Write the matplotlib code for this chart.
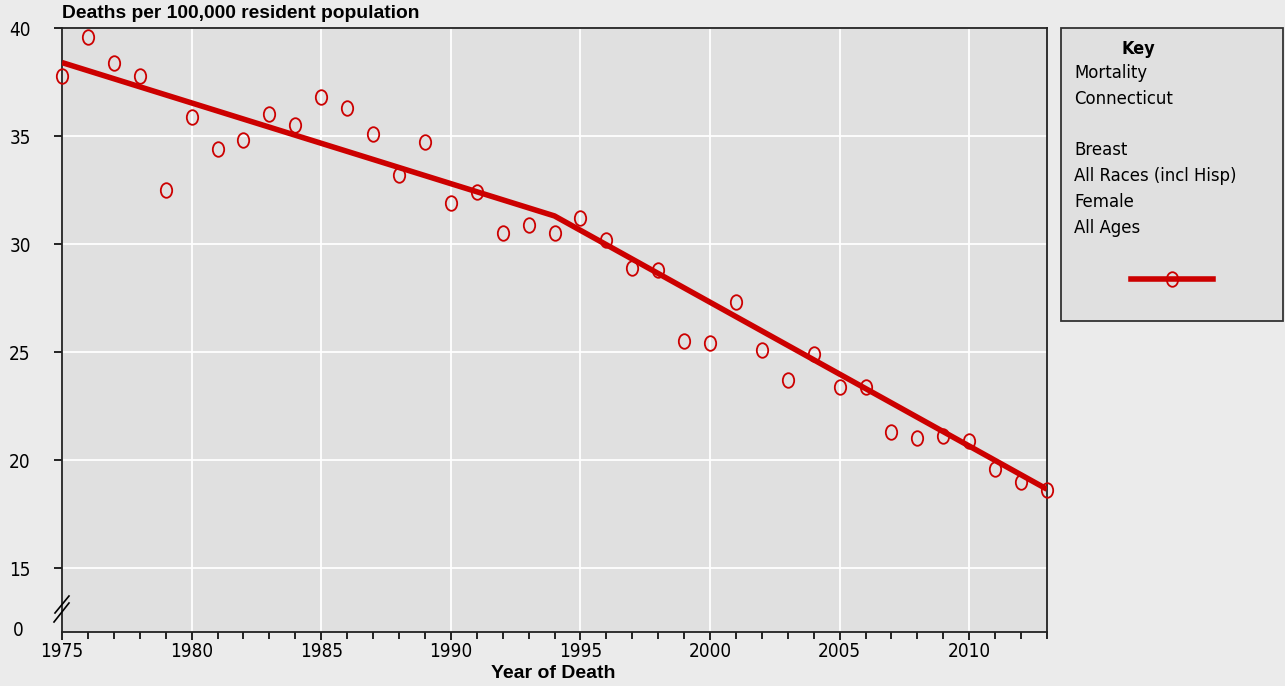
import matplotlib.pyplot as plt
import numpy as np
from matplotlib.path import Path
from matplotlib.patches import Rectangle
from matplotlib.lines import Line2D

years = list(range(1975, 2014))
rates = [37.8, 39.6, 38.4, 37.8, 32.5, 35.9, 34.4, 34.8, 36.0, 35.5,
         36.8, 36.3, 35.1, 33.2, 34.7, 31.9, 32.4, 30.5, 30.9, 30.5,
         31.2, 30.2, 28.9, 28.8, 25.5, 25.4, 27.3, 25.1, 23.7, 24.9,
         23.4, 23.4, 21.3, 21.0, 21.1, 20.9, 19.6, 19.0, 18.6]
trend_years = [1975, 1994, 2013]
trend_vals = [38.4, 31.3, 18.65]
key_lines = ["Mortality", "Connecticut", "", "Breast", "All Races (incl Hisp)", "Female", "All Ages"]

RED = "#cc0000"
W, H = 1285, 686

fig = plt.figure(figsize=(W / 100, H / 100), dpi=100, facecolor="#ebebeb")
plt.rcParams['font.family'] = ['DejaVu Sans']

def fx(px):
    return px / W

def fy(py):
    return 1 - py / H

ax = fig.add_axes([fx(62), fy(632), fx(1047) - fx(62), fy(28) - fy(632)])
ax.set_facecolor("#e0e0e0")

# ellipse marker (taller than wide)
circ = Path.unit_circle()
ell = Path(circ.vertices * np.array([0.78, 1.0]), circ.codes)

ax.plot(trend_years, trend_vals, color=RED, lw=4, zorder=3, solid_capstyle="butt")
ax.plot(years, rates, ls="none", marker=ell, ms=10.5, mfc="none", mec=RED, mew=1.3, zorder=4,
        clip_on=False)

ax.set_xlim(1975, 2013)
ax.set_ylim(12.04, 40)
ax.set_xticks(range(1975, 2014, 5))
ax.set_xticks(range(1975, 2014), minor=True)
ax.set_yticks([15, 20, 25, 30, 35, 40])
ax.grid(True, which="major", color="white", lw=1.3, zorder=1)
ax.set_axisbelow(True)

tick_font = dict(family="DejaVu Sans", stretch="condensed", size=13.6)
ax.set_xticklabels([str(v) for v in range(1975, 2014, 5)], fontdict=tick_font)
ax.set_yticklabels(["15", "20", "25", "30", "35", "40"], fontdict=tick_font)
ax.tick_params(axis="both", which="major", length=6, width=1.2, direction="out", pad=1.5, colors="black")
ax.tick_params(axis="x", which="minor", length=5, width=1.2, direction="out")
ax.tick_params(axis="y", pad=32)
for lab in ax.get_yticklabels():
    lab.set_horizontalalignment("left")
for s in ax.spines.values():
    s.set_linewidth(1.3)
    s.set_color("#222222")

# zero label and axis break
fig.text(fx(13), fy(630), "0", ha="left", va="center", **tick_font)
fig.add_artist(Line2D([fx(54), fx(69)], [fy(622), fy(603)], color="black", lw=1.2))
fig.add_artist(Line2D([fx(55), fx(69)], [fy(613), fy(596)], color="black", lw=1.2))

fig.text(fx(62), fy(14), "Deaths per 100,000 resident population", ha="left", va="center",
         family="Liberation Sans", weight="bold", size=13.9)
fig.text(fx(553), fy(673), "Year of Death", ha="center", va="center",
         family="Liberation Sans", weight="bold", size=14)

# key box
fig.add_artist(Rectangle((fx(1061), fy(321)), fx(1283) - fx(1061), fy(28) - fy(321),
                         facecolor="#e0e0e0", edgecolor="#333333", lw=1.3))
fig.text(fx(1138), fy(49), "Key", ha="center", va="center", family="DejaVu Sans",
         stretch="condensed", weight="bold", size=13)
for i, t in enumerate(key_lines):
    fig.text(fx(1074), fy(73 + 25.8 * i), t, ha="left", va="center", family="DejaVu Sans",
             stretch="condensed", size=13.25)
fig.add_artist(Line2D([fx(1131), fx(1213)], [fy(279), fy(279)], color=RED, lw=4))
fig.add_artist(Line2D([fx(1172)], [fy(279)], ls="none", marker=ell, ms=10.5, mfc="none", mec=RED, mew=1.3))

fig.savefig("out.png", dpi=100, facecolor=fig.get_facecolor())
